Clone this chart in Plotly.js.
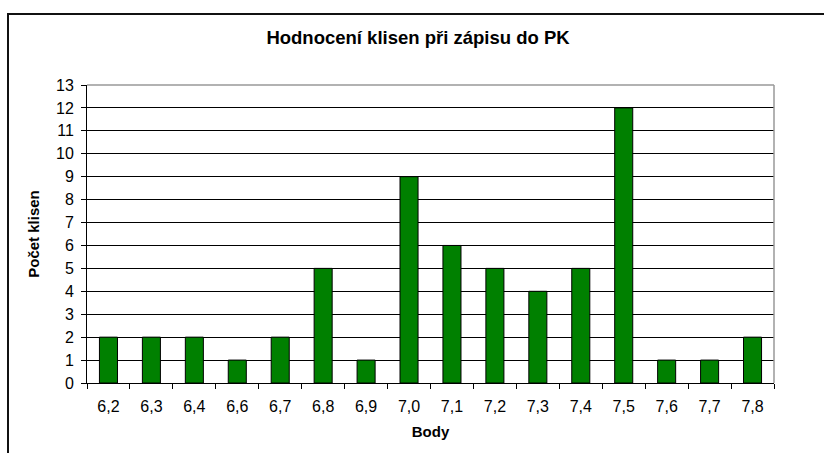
<!DOCTYPE html>
<html>
<head>
<meta charset="utf-8">
<script src="https://cdn.plot.ly/plotly-3.0.1.min.js"></script>
<style>
html,body{margin:0;padding:0;background:#fff;}
#wrap{position:relative;width:824px;height:453px;overflow:hidden;}
#chart{position:absolute;left:0;top:0;width:824px;height:453px;}
#frame{position:absolute;left:7px;top:13px;width:900px;height:600px;border-left:2px solid #111;border-top:2px solid #111;pointer-events:none;}
</style>
</head>
<body>
<div id="wrap"><div id="chart"></div><div id="frame"></div></div>
<script>
const categories = ["6,2","6,3","6,4","6,6","6,7","6,8","6,9","7,0","7,1","7,2","7,3","7,4","7,5","7,6","7,7","7,8"];
const counts = [2,2,2,1,2,5,1,9,6,5,4,5,12,1,1,2];
const yTicks = [0,1,2,3,4,5,6,7,8,9,10,11,12,13];

const font = "Liberation Sans, Arial, sans-serif";

const trace = {
  type: "bar",
  x: categories,
  y: counts,
  marker: {color: "#008000", line: {color: "#000", width: 1}},
  hoverinfo: "x+y"
};

const layout = {
  width: 824, height: 453,
  margin: {l: 87, r: 50, t: 85, b: 70},
  paper_bgcolor: "#fff", plot_bgcolor: "#fff",
  font: {family: font, size: 16, color: "#000"},
  bargap: 0.58,
  showlegend: false,
  title: {text: "<b>Hodnocení klisen při zápisu do PK</b>", font: {family: font, size: 18.5, color: "#000"},
          x: 418/824, xanchor: "center", y: 1 - 38/453, yanchor: "middle", xref: "container", yref: "container"},
  xaxis: {
    type: "category",
    tickson: "boundaries",
    ticks: "outside", ticklen: 5, tickcolor: "#000", tickwidth: 1,
    showline: true, linecolor: "#000", linewidth: 1,
    showgrid: false,
    ticklabelstandoff: 9,
    tickfont: {family: font, size: 16, color: "#000"},
    title: {text: "<b>Body</b>", font: {family: font, size: 15, color: "#000"}, standoff: 12}
  },
  yaxis: {
    range: [0, 13],
    tickvals: yTicks,
    ticks: "outside", ticklen: 5, tickcolor: "#000", tickwidth: 1,
    showline: true, linecolor: "#000", linewidth: 1,
    showgrid: true, gridcolor: "#000", gridwidth: 1,
    zeroline: false,
    ticklabelstandoff: 4,
    tickfont: {family: font, size: 16, color: "#000"},
    title: {text: "<b>Počet klisen</b>", font: {family: font, size: 15, color: "#000"}, standoff: 12}
  },
  shapes: [
    {type: "line", xref: "paper", yref: "paper", x0: 0, x1: 1, y0: 1, y1: 1, line: {color: "#999", width: 1.5}},
    {type: "line", xref: "paper", yref: "paper", x0: 1, x1: 1, y0: 0, y1: 1, line: {color: "#999", width: 1.5}}
  ]
};

Plotly.newPlot("chart", [trace], layout, {displayModeBar: false, staticPlot: true});
</script>
</body>
</html>
